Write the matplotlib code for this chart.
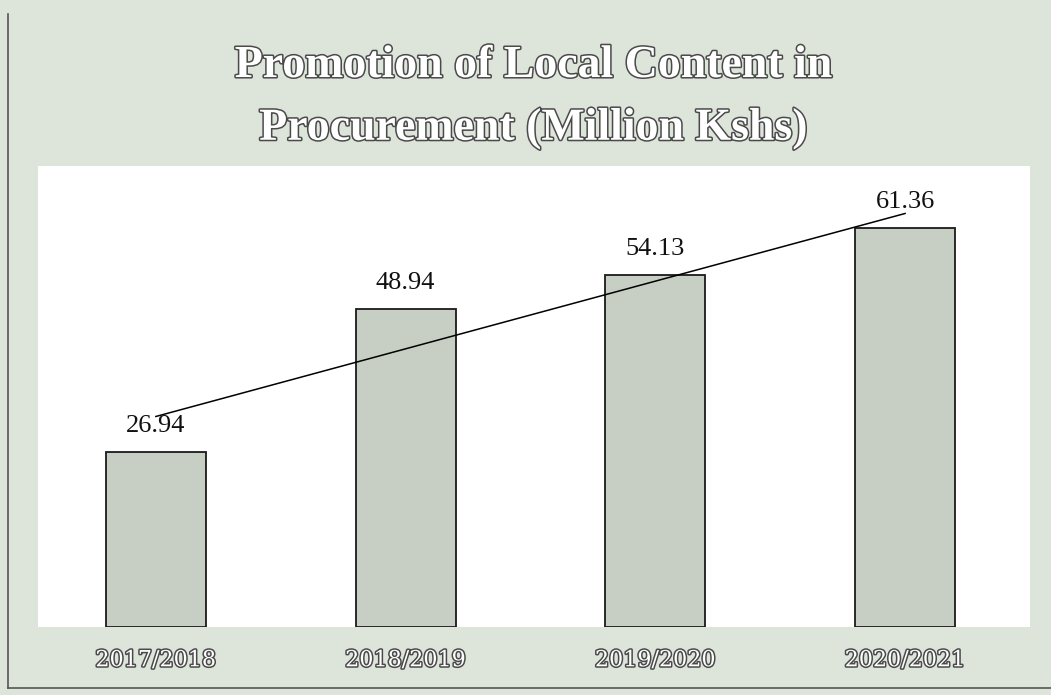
import numpy as np
import matplotlib.pyplot as plt
import matplotlib.patheffects as pe

years = ['2017/2018', '2018/2019', '2019/2020', '2020/2021']
values = [26.94, 48.94, 54.13, 61.36]

plt.rcParams['font.family'] = ['Liberation Serif', 'DejaVu Serif']

fig = plt.figure(figsize=(10.51, 6.95), dpi=100, facecolor='#dde4da')
ax = fig.add_axes([0.036, 0.098, 0.944, 0.663])
ax.set_facecolor('white')

x = np.arange(len(years))
ax.bar(x, values, width=0.4, color='#c7cfc4', edgecolor='#1a1a1a', linewidth=1.3)

# linear trend line through the bars
k, b = np.polyfit(x, values, 1)
ax.plot([x[0], x[-1]], [k * x[0] + b + 0.8, k * x[-1] + b - 0.5], color='black', lw=1.1)

for xi, v in zip(x, values):
    ax.text(xi, v + 4.0, f'{v:.2f}', ha='center', va='center', fontsize=19, color='#111111')

x0, x1 = -0.4726, 3.5
ax.set_xlim(x0, x1)
ax.set_ylim(0, 70.9)
ax.set_yticks([])
ax.set_xticks([])
for s in ax.spines.values():
    s.set_visible(False)

outline = [pe.withStroke(linewidth=2.2, foreground='#4a4a4a')]
for xi, lab in zip(x, years):
    fx = 0.036 + 0.944 * (xi - x0) / (x1 - x0)
    fig.text(fx, 0.05, lab, ha='center', va='center', fontsize=16,
             family=['DejaVu Serif'], color='white', path_effects=outline)

fig.text(0.508, 0.905, 'Promotion of Local Content in', ha='center', va='center',
         fontsize=33, fontweight='bold', color='white', path_effects=outline)
fig.text(0.508, 0.815, 'Procurement (Million Kshs)', ha='center', va='center',
         fontsize=33, fontweight='bold', color='white', path_effects=outline)

# scanned page border
fig.add_artist(plt.Line2D([0.008, 0.008], [0.01, 0.98], transform=fig.transFigure,
                          color='#555555', lw=1.2))
fig.add_artist(plt.Line2D([0.008, 1.0], [0.01, 0.01], transform=fig.transFigure,
                          color='#555555', lw=1.2))

fig.savefig('out.png', dpi=100, facecolor=fig.get_facecolor())
